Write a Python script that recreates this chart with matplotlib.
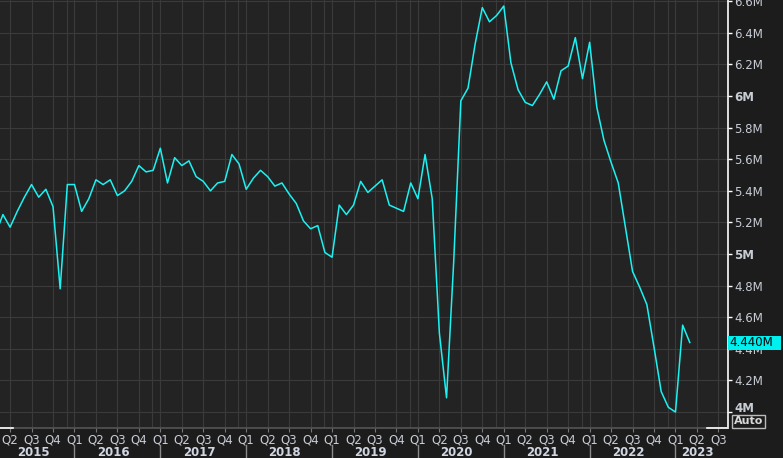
import numpy as np
import matplotlib
matplotlib.use("Agg")
import matplotlib.pyplot as plt
from matplotlib.patches import Rectangle
from matplotlib.transforms import ScaledTranslation

# ── Data: monthly values in millions, Feb 2015 .. Mar 2023 ─────
start_month = 1  # months since Jan 2015 (Feb 2015)
values = [
    5.13, 5.25, 5.17, 5.27, 5.36, 5.44, 5.36, 5.41, 5.30, 4.78, 5.44,          # 2015
    5.44, 5.27, 5.35, 5.47, 5.44, 5.47, 5.37, 5.40, 5.46, 5.56, 5.52, 5.53,    # 2016
    5.67, 5.45, 5.61, 5.56, 5.59, 5.49, 5.46, 5.40, 5.45, 5.46, 5.63, 5.57,    # 2017
    5.41, 5.48, 5.53, 5.49, 5.43, 5.45, 5.38, 5.32, 5.21, 5.16, 5.18, 5.01,    # 2018
    4.98, 5.31, 5.25, 5.31, 5.46, 5.39, 5.43, 5.47, 5.31, 5.29, 5.27, 5.45,    # 2019
    5.35, 5.63, 5.35, 4.50, 4.09, 4.95, 5.97, 6.05, 6.33, 6.56, 6.47, 6.51,    # 2020
    6.57, 6.21, 6.04, 5.96, 5.94, 6.01, 6.09, 5.98, 6.16, 6.19, 6.37, 6.11,    # 2021
    6.34, 5.93, 5.72, 5.58, 5.45, 5.17, 4.89, 4.79, 4.68, 4.41, 4.13, 4.03,    # 2022
    4.00, 4.55, 4.44,                                                          # 2023
]
years = [2015, 2016, 2017, 2018, 2019, 2020, 2021, 2022, 2023]
quarter_labels = ["Q1", "Q2", "Q3", "Q4"]
y_ticks = [4.0, 4.2, 4.4, 4.6, 4.8, 5.0, 5.2, 5.4, 5.6, 5.8, 6.0, 6.2, 6.4, 6.6]

months = np.arange(len(values)) + start_month

# ── Style ─────────────────────────────────────────────────────
BG_FIG = "#1c1c1c"
BG_AX = "#232323"
GRID = "#3a3a3a"
TXT = "#c8ccd4"
LINE = "#1cf2f2"

W, H = 783, 458
fig = plt.figure(figsize=(W / 100, H / 100), dpi=100, facecolor=BG_FIG)
ax_l, ax_b, ax_r, ax_t = 0, 30, 727.5, 458
ax = fig.add_axes([ax_l / W, ax_b / H, (ax_r - ax_l) / W, (ax_t - ax_b) / H])
ax.set_facecolor(BG_AX)

x_lo, x_hi = 1.59, 103.27
ax.set_xlim(x_lo, x_hi)
ax.set_ylim(3.899, 6.608)

# Grid: quarters + December lines, horizontal every 0.2M
quarter_pos = [m for m in range(0, 106, 3) if x_lo <= m <= x_hi]
for m in quarter_pos:
    ax.axvline(m, color=GRID, lw=0.8, zorder=1)
for m in range(11, 106, 12):
    if x_lo <= m <= x_hi:
        ax.axvline(m - 0.1, color=GRID, lw=0.8, zorder=1)
for v in y_ticks:
    ax.axhline(v, color=GRID, lw=0.8, zorder=1)

ax.plot(months, values, color=LINE, lw=1.1, zorder=3)

# ── Right y axis ──────────────────────────────────────────────
ax.yaxis.tick_right()
ax.set_yticks(y_ticks)
ax.set_yticklabels([f"{v:g}M" for v in y_ticks])
for lab, v in zip(ax.get_yticklabels(), y_ticks):
    if float(v).is_integer():
        lab.set_fontweight("bold")
        lab.set_fontsize(9)
ax.tick_params(axis="y", length=3, width=1, color="white", pad=2,
               labelsize=8.5, labelcolor=TXT)
# lowest label sits a little higher so it stays clear of the Auto box
low_lab = ax.get_yticklabels()[0]
low_lab.set_transform(low_lab.get_transform()
                      + ScaledTranslation(0, 5 / 100, fig.dpi_scale_trans))

# ── Bottom axis: quarters and years ───────────────────────────
ax.set_xticks(quarter_pos)
ax.set_xticklabels([quarter_labels[(m // 3) % 4] for m in quarter_pos])
ax.tick_params(axis="x", length=3, width=0.8, color="#777777", pad=1,
               labelsize=8.5, labelcolor=TXT)

for s in ["left", "top"]:
    ax.spines[s].set_visible(False)
ax.spines["right"].set_color("white")
ax.spines["right"].set_linewidth(1.2)
ax.spines["bottom"].set_color("#555555")
ax.spines["bottom"].set_linewidth(1.2)
ax.plot([0, 13 / 727.5], [0, 0], transform=ax.transAxes, color="white",
        lw=1.2, clip_on=False, zorder=5)
ax.plot([707 / 727.5, 1], [0, 0], transform=ax.transAxes, color="white",
        lw=1.2, clip_on=False, zorder=5)

ax_h = ax_t - ax_b
xt = ax.get_xaxis_transform()
for i, yr in enumerate(years):
    m0 = 12 * i
    lo, hi = max(m0, x_lo), min(m0 + 12, x_hi)
    ax.text((lo + hi) / 2 - 0.6, -24 / ax_h, str(yr), transform=xt,
            ha="center", va="center", fontsize=8.5, fontweight="bold",
            color="#d0d6e2")
    if m0 > x_lo:
        ax.plot([m0, m0], [-17 / ax_h, -30 / ax_h], transform=xt,
                color="#8a8a8a", lw=1, clip_on=False)

# ── Last value tag ────────────────────────────────────────────
last = values[-1]
tag_h = 14 / 158
yt = ax.get_yaxis_transform()
ax.add_patch(Rectangle((1.0, last - tag_h / 2), (781 - 727.5) / 727.5, tag_h,
                       transform=yt, facecolor="#00f0f0", edgecolor="none",
                       clip_on=False, zorder=6))
ax.text(1.003, last, f"{last:.3f}M", transform=yt, ha="left", va="center",
        fontsize=8.5, color="black", zorder=7)

fig.text(748.5 / W, 1 - 421.5 / H, "Auto", ha="center", va="center",
         fontsize=8, fontweight="bold", color="#d8d8d8",
         bbox=dict(boxstyle="square,pad=0.15", facecolor="none",
                   edgecolor="#bbbbbb", linewidth=1))

fig.savefig("out.png", dpi=100, facecolor=BG_FIG)
